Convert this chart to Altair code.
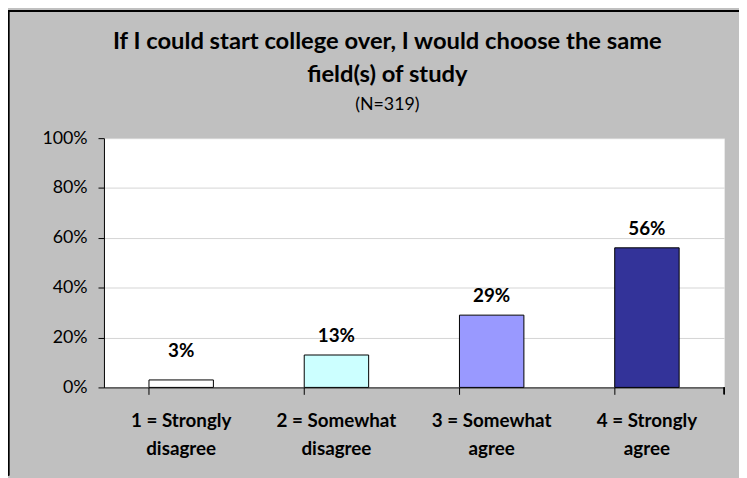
import altair as alt
import pandas as pd

categories = ["1 = Strongly disagree", "2 = Somewhat disagree", "3 = Somewhat agree", "4 = Strongly agree"]
values = [0.03, 0.13, 0.29, 0.56]
colors = ["#ffffff", "#ccffff", "#9999ff", "#333399"]
labels = ["3%", "13%", "29%", "56%"]

df = pd.DataFrame({"category": categories, "value": values, "label": labels})

W, H = 627, 252
FONT = "Lato"

x = alt.X("category:N", sort=categories, title=None,
          scale=alt.Scale(paddingInner=0.585, paddingOuter=0.29),
          axis=alt.Axis(labelAngle=0, bandPosition=0, tickSize=7, tickColor="black",
                        domainColor="black", labelFont=FONT, labelFontSize=19,
                        labelFontWeight="bold", labelColor="black", labelPadding=18,
                        labelLineHeight=28, labelBaseline="top",
                        labelExpr="[slice(datum.label, 0, lastindexof(datum.label, ' ')), slice(datum.label, lastindexof(datum.label, ' ') + 1)]"))

y_scale = alt.Scale(domain=[0, 1], nice=False)

bars = alt.Chart(df).mark_bar(stroke="black", strokeWidth=1).encode(
    x=x,
    y=alt.Y("value:Q", scale=y_scale, title=None,
            axis=alt.Axis(values=[0, 0.2, 0.4, 0.6, 0.8, 1.0], format=".0%",
                          tickSize=6, tickColor="black", domainColor="black",
                          gridColor="#d4d4d4", labelFont=FONT, labelFontSize=18,
                          labelColor="black", labelPadding=11)),
    color=alt.Color("category:N", scale=alt.Scale(domain=categories, range=colors), legend=None),
)

text = alt.Chart(df).transform_calculate(
    ly="max(datum.value, 0.07)"
).mark_text(font=FONT, fontSize=19, fontWeight="bold", color="black", baseline="alphabetic", dy=-13).encode(
    x=alt.X("category:N", sort=categories),
    y=alt.Y("ly:Q", scale=y_scale),
    text="label:N",
)

end_tick = alt.Chart(df).mark_rule(color="black").encode(
    x=alt.value(W), y=alt.value(H), y2=alt.value(H + 7)
)
border_left = alt.Chart(df).mark_rule(color="black", strokeWidth=1.5).encode(
    x=alt.value(-96.5), y=alt.value(-129), y2=alt.value(H + 89)
)
border_top = alt.Chart(df).mark_rule(color="black", strokeWidth=1.5).encode(
    x=alt.value(-97), x2=alt.value(W + 15), y=alt.value(-128.5)
)

chart = alt.layer(bars, text, end_tick, border_left, border_top).properties(
    width=W, height=H,
    autosize=alt.AutoSizeParams(type="none"),
    padding={"left": 97, "top": 129, "right": 15, "bottom": 89},
    background="#c0c0c0",
    title=alt.TitleParams(
        text=["If I could start college over, I would choose the same", "field(s) of study"],
        subtitle="(N=319)",
        font=FONT, fontSize=24, fontWeight="bold", color="black", lineHeight=33,
        subtitleFont=FONT, subtitleFontSize=18, subtitleColor="black", subtitlePadding=9,
        anchor="middle", dx=-27, offset=-105,
    ),
).configure_view(fill="white", stroke="transparent")

chart.save("out.html", embed_options={"renderer": "svg", "actions": False})
